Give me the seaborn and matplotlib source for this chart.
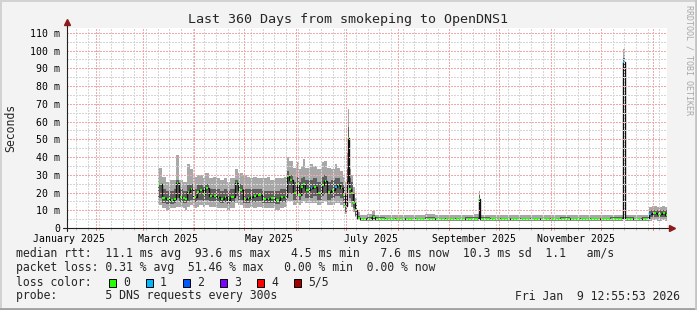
import numpy as np
import pandas as pd
import matplotlib
matplotlib.use("Agg")
import matplotlib.pyplot as plt
from matplotlib.patches import Rectangle
from matplotlib.lines import Line2D
import seaborn as sns

# ---------------- data ----------------
START = pd.Timestamp("2025-01-14 12:55:53")
END = pd.Timestamp("2026-01-09 12:55:53")

# day offsets from START of each consolidated sample
day = [54.6, 56.7, 59.4, 61.8, 64.2, 65.4, 67.2, 69.4, 70.8, 72.0,
       73.8, 75.6, 78.0, 79.2, 81.6, 82.8, 85.2, 87.6, 90.0, 91.8,
       94.2, 96.0, 97.8, 100.8, 102.6, 105.6, 108.0, 109.8, 111.6, 114.0,
       117.0, 120.0, 121.8, 124.8, 127.8, 130.2, 132.0, 133.2, 135.6, 138.0,
       139.2, 140.4, 141.6, 142.8, 145.8, 147.6, 150.0, 153.0, 154.2, 156.0,
       158.4, 160.8, 162.0, 163.8, 165.6, 166.8, 167.7, 168.3, 169.2, 170.4,
       171.6, 172.8, 174.0, 176.0, 180.0, 183.0, 185.0, 191.0, 197.0, 203.0,
       209.0, 215.0, 221.0, 227.0, 233.0, 239.0, 244.0, 247.0, 248.0, 254.0,
       260.0, 266.0, 272.0, 278.0, 284.0, 290.0, 296.0, 302.0, 308.0, 314.0,
       320.0, 326.0, 333.5, 334.8, 340.0, 345.0, 349.0, 351.0, 354.0, 357.0,
       359.0]

# median rtt (ms)
median_ms = [24.8, 16.7, 16.2, 15.8, 16.2, 25.5, 17.6, 16.7, 16.2, 20.5,
             22.0, 17.3, 20.5, 21.4, 19.2, 22.4, 18.0, 18.0, 17.3, 16.3,
             17.3, 15.8, 17.3, 25.2, 21.4, 16.2, 16.7, 17.3, 18.0, 18.6,
             16.3, 16.3, 16.7, 15.8, 17.5, 17.6, 29.3, 27.0, 19.7, 25.0,
             18.6, 23.0, 25.0, 21.4, 22.3, 23.0, 19.9, 24.2, 26.7, 20.5,
             21.4, 23.3, 24.2, 22.5, 18.6, 12.4, 26.7, 50.5, 22.0, 20.0,
             14.0, 10.0, 5.5, 4.8, 5.0, 6.3, 5.0, 4.8, 4.9, 4.8,
             4.8, 5.0, 4.8, 4.9, 4.8, 4.9, 5.0, 16.3, 5.0, 4.8,
             4.9, 4.8, 4.9, 4.8, 4.9, 4.8, 4.9, 4.8, 4.9, 4.8,
             4.9, 5.0, 93.6, 5.0, 4.9, 5.0, 8.0, 8.2, 7.8, 8.3,
             7.6]

# inner smoke band (2nd..4th ping), ms
inner_lo = [17, 14, 13.5, 13.5, 14, 17, 14.5, 14, 14, 15,
            16, 14.5, 15.5, 16, 15, 16, 15, 15, 14.5, 14,
            14.5, 13.5, 14.5, 18, 16, 14, 14, 14.5, 14.5, 15,
            14, 14, 14, 13.5, 14.5, 14.5, 20, 19, 16, 18,
            16, 18, 19, 17, 17, 18, 16, 18, 19, 16,
            17, 18, 18, 17, 14, 9, 19, 36, 17, 15,
            11, 7, 4.8, 4.4, 4.5, 5.0, 4.5, 4.4, 4.4, 4.4,
            4.3, 4.5, 4.4, 4.4, 4.3, 4.4, 4.5, 12, 4.5, 4.4,
            4.4, 4.3, 4.4, 4.4, 4.4, 4.3, 4.4, 4.4, 4.4, 4.3,
            4.4, 4.5, 88, 4.5, 4.4, 4.5, 6.0, 6.2, 6.0, 6.2,
            6.0]
inner_hi = [25, 22, 21, 21, 22, 27, 22, 21, 21, 24,
            25, 22, 24, 24, 23, 25, 22, 22, 22, 21,
            22, 21, 22, 27, 25, 22, 22, 22, 22, 22,
            21, 21, 21, 21, 22, 22, 32, 30, 26, 29,
            26, 28, 29, 27, 27, 28, 26, 29, 30, 26,
            27, 28, 28, 26, 24, 20, 33, 57, 28, 26,
            19, 13, 7, 5.8, 6.0, 7.5, 6.0, 5.8, 5.9, 5.8,
            5.7, 6.0, 5.8, 5.9, 5.8, 6.0, 6.0, 18.5, 6.0, 5.8,
            5.9, 5.7, 5.9, 5.8, 5.9, 5.8, 6.0, 5.8, 5.9, 5.7,
            5.9, 6.0, 96, 6.0, 5.9, 6.0, 10.0, 10.2, 10.0, 10.3,
            10.0]

# outer smoke band (min..max ping), ms
outer_lo = [13, 11, 10, 11, 11, 12, 12, 11, 10, 12,
            13, 11, 12, 13, 12, 13, 12, 12, 11, 11,
            11, 10, 11, 14, 13, 11, 11, 12, 11, 12,
            11, 11, 11, 10, 11, 12, 15, 15, 13, 14,
            13, 14, 15, 14, 14, 14, 13, 14, 15, 13,
            13, 14, 14, 13, 11, 8, 15, 24, 14, 12,
            9, 6, 4.5, 4.0, 4.0, 4.2, 4.0, 4.0, 4.0, 4.0,
            4.0, 4.1, 4.0, 4.0, 4.0, 4.0, 4.1, 8, 4.0, 4.0,
            4.0, 4.0, 4.0, 4.0, 4.0, 4.0, 4.0, 4.0, 4.0, 4.0,
            4.0, 4.1, 84, 4.0, 4.0, 4.0, 4.2, 4.3, 4.2, 4.3,
            4.2]
outer_hi = [34, 29, 26, 27, 27, 41, 27, 26, 26, 36,
            33, 29, 30, 30, 28, 31, 28, 29, 28, 27,
            28, 26, 28, 33, 31, 30, 29, 28, 29, 28,
            28, 29, 27, 28, 28, 29, 40, 38, 34, 37,
            33, 35, 39, 34, 36, 35, 33, 37, 38, 34,
            33, 36, 34, 32, 29, 26, 42, 67, 33, 30,
            23, 17, 9, 7.5, 7.8, 9.8, 7.6, 7.4, 7.6, 7.4,
            7.5, 7.7, 7.4, 7.5, 7.6, 7.5, 7.8, 21, 7.4, 7.3,
            7.2, 7.2, 7.3, 7.2, 7.4, 7.3, 7.4, 7.3, 7.2, 7.3,
            7.4, 7.6, 101, 7.3, 7.4, 7.6, 12.0, 12.2, 12.0, 12.5,
            12.0]

# lost pings per sample (of 5)
loss = [0] * len(day)
for i_ in (44, 51, 56, 92, 96):
    loss[i_] = 1

loss_labels = ["0", "1", "2", "3", "4", "5/5"]
loss_colors = ["#26ff00", "#00b8ff", "#0059ff", "#7e00ff", "#ff0000", "#a10000"]

x_tick_labels = ["January 2025", "March 2025", "May 2025", "July 2025",
                 "September 2025", "November 2025"]
x_tick_dates = ["2025-01-16", "2025-03-16", "2025-05-16", "2025-07-16",
                "2025-09-16", "2025-11-16"]
y_ticks = [0, 10, 20, 30, 40, 50, 60, 70, 80, 90, 100, 110]
y_tick_labels = ["0", "10 m", "20 m", "30 m", "40 m", "50 m", "60 m",
                 "70 m", "80 m", "90 m", "100 m", "110 m"]

title = "Last 360 Days from smokeping to OpenDNS1"
line_rtt = "median rtt:  11.1 ms avg  93.6 ms max   4.5 ms min   7.6 ms now  10.3 ms sd  1.1   am/s"
line_loss = "packet loss: 0.31 % avg  51.46 % max   0.00 % min  0.00 % now"
line_color = "loss color:"
line_probe = "probe:       5 DNS requests every 300s"
stamp = "Fri Jan  9 12:55:53 2026"

# ---------------- drawing ----------------
sns.set_style("white")
plt.rcParams["font.family"] = ["DejaVu Sans Mono"]

W, H = 697, 310
fig = plt.figure(figsize=(W / 100, H / 100), dpi=100)
fig.patch.set_facecolor("#f3f3f3")
ax = fig.add_axes([67 / W, 1 - 228 / H, 600 / W, 200 / H])
ax.set_facecolor("white")

span = (END - START) / pd.Timedelta(days=1)
ax.set_xlim(0, span)
ax.set_ylim(0, 112.7)


def off(ts):
    return (pd.Timestamp(ts) - START) / pd.Timedelta(days=1)


d = np.array(day + [span])


def closed(v):
    return np.array(list(v) + [v[-1]])


ax.fill_between(d, closed(outer_lo), closed(outer_hi), step="post",
                color="#a8a8a8", lw=0, zorder=1)
ax.fill_between(d, closed(inner_lo), closed(inner_hi), step="post",
                color="#5e5e5e", lw=0, zorder=1.1)
sns.lineplot(x=d, y=closed(median_ms), drawstyle="steps-post", color="#111111",
             lw=1.0, ax=ax, zorder=2, estimator=None, sort=False)
for i in range(len(day)):
    x0, x1 = d[i], d[i + 1]
    t = min(0.35, 0.2 * (x1 - x0))
    ax.hlines(median_ms[i], x0 + t, x1 - t, colors=loss_colors[loss[i]],
              lw=1.5, zorder=2.5)

# grid (drawn over the graph, rrdtool style), crisp dots
dot = (0, (1.4, 1.4))
gkw = dict(lw=0.72, ls=dot, antialiased=False)
weeks = pd.date_range("2025-01-20", END, freq="7D")
months = pd.date_range("2025-02-01", END, freq="MS")
for w in weeks:
    ax.axvline(off(w), color="#d6d6d6", zorder=3, **gkw)
for v in np.arange(5, 112, 10):
    ax.axhline(v, color="#d6d6d6", zorder=3, **gkw)
for m in months:
    ax.axvline(off(m), color="#f2a8a8", zorder=3.1, **gkw)
for v in y_ticks[1:]:
    ax.axhline(v, color="#f2a8a8", zorder=3.1, **gkw)

# small tick marks below x axis
xt = ax.get_xaxis_transform()
for w in weeks:
    ax.plot([off(w)] * 2, [-0.008, 0], transform=xt, color="#c8c8c8", lw=0.72, clip_on=False)
for m in months:
    ax.plot([off(m)] * 2, [-0.012, 0], transform=xt, color="#e08080", lw=0.72, clip_on=False)

# ticks
ax.set_xticks([off(t) for t in x_tick_dates])
ax.set_xticklabels(x_tick_labels, fontsize=7.1)
ax.set_yticks(y_ticks)
ax.set_yticklabels(y_tick_labels, fontsize=7.1)
ax.tick_params(axis="x", length=0, pad=4.0, colors="black")
ax.tick_params(axis="y", length=2.2, width=0.72, pad=2.8, colors="#e08080", labelcolor="black")

for s in ax.spines.values():
    s.set_visible(False)
# axes lines with arrows
ax.plot([-4 / 600, 1 + 3 / 600], [0, 0], transform=ax.transAxes, color="#202020", lw=0.8,
        clip_on=False, zorder=4)
ax.plot([0, 0], [-3 / 200, 1 + 4 / 200], transform=ax.transAxes, color="#202020", lw=0.8,
        clip_on=False, zorder=4)
ax.plot([0], [1 + 6 / 200], marker="^", ms=4, color="#8b1c1c", transform=ax.transAxes,
        clip_on=False, zorder=5)
ax.plot([1 + 5 / 600], [0], marker=">", ms=4, color="#8b1c1c", transform=ax.transAxes,
        clip_on=False, zorder=5)


def ftext(x, y, s, **kw):
    fig.text(x / W, 1 - y / H, s, **kw)


ftext(348, 22.5, title, ha="center", va="baseline", fontsize=9.6)
ftext(11, 128, "Seconds", rotation=90, ha="center", va="center", fontsize=8.3)
ftext(688.5, 5, "RRDTOOL / TOBI OETIKER", rotation=-90, ha="center", va="top",
      fontsize=6, color="#a8a8a8")

ftext(16, 257.5, line_rtt, ha="left", va="baseline", fontsize=8.3)
ftext(16, 271.5, line_loss, ha="left", va="baseline", fontsize=8.3)
ftext(16, 285.5, line_color, ha="left", va="baseline", fontsize=8.3)
ftext(16, 299.5, line_probe, ha="left", va="baseline", fontsize=8.3)
ftext(680, 299.5, stamp, ha="right", va="baseline", fontsize=8.3)

for i, (lab, col) in enumerate(zip(loss_labels, loss_colors)):
    x = 108.5 + 37 * i
    fig.add_artist(Rectangle((x / W, 1 - 286.5 / H), 7.5 / W, 8 / H, facecolor=col,
                             edgecolor="black", lw=0.7, transform=fig.transFigure))
    ftext(x + 14.5, 285.5, lab, ha="left", va="baseline", fontsize=8.3)


# image border shading
def fline(x0, y0, x1, y1, c, lw):
    fig.add_artist(Line2D([x0 / W, x1 / W], [1 - y0 / H, 1 - y1 / H], color=c, lw=lw,
                          transform=fig.transFigure))


fline(0, 0.5, W, 0.5, "#d2d2d2", 1.4)
fline(0.5, 0, 0.5, H, "#d2d2d2", 1.4)
fline(0, H - 1, W, H - 1, "#a0a0a0", 2.0)
fline(W - 1, 0, W - 1, H, "#c4c4c4", 2.0)

fig.savefig("out.png", dpi=100, facecolor=fig.get_facecolor())
